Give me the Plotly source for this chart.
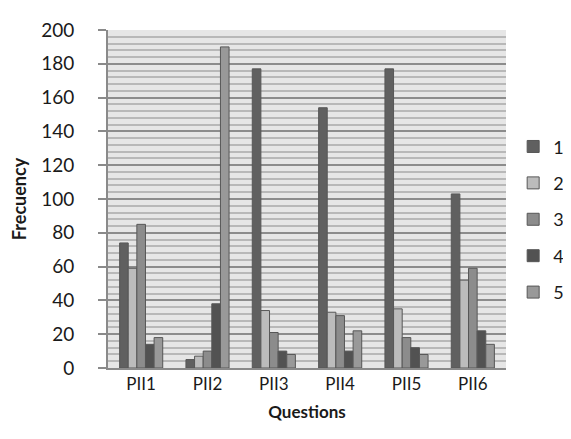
import plotly.graph_objects as go

categories = ["PII1", "PII2", "PII3", "PII4", "PII5", "PII6"]
series_names = ["1", "2", "3", "4", "5"]
s1 = [74, 5, 177, 154, 177, 103]
s2 = [59, 7, 34, 33, 35, 52]
s3 = [85, 10, 21, 31, 18, 59]
s4 = [14, 38, 10, 10, 12, 22]
s5 = [18, 190, 8, 22, 8, 14]
values = [s1, s2, s3, s4, s5]
colors = ["#606060", "#bcbcbc", "#8c8c8c", "#525252", "#999999"]

FONT = "Lato"
fig = go.Figure()
for i, (name, vals) in enumerate(zip(series_names, values)):
    fig.add_trace(go.Bar(
        x=categories, y=vals, name=name,
        marker=dict(color=colors[i], line=dict(color="#575757", width=1)),
        legendgroup=name,
    ))

fig.update_layout(
    width=571, height=439,
    margin=dict(l=100, r=73, t=22, b=79, autoexpand=False),
    paper_bgcolor="white", plot_bgcolor="#e6e6e6",
    barmode="group", bargap=0.35, bargroupgap=0,
    font=dict(family=FONT, size=18, color="#1a1a1a"),
    legend=dict(x=1.018, y=0.44, yanchor="middle", xanchor="left",
                font=dict(size=18), tracegroupgap=10,
                itemwidth=30, bgcolor="rgba(0,0,0,0)"),
    xaxis=dict(
        showline=True, linecolor="#8a8a8a", linewidth=2,
        ticks="", tickfont=dict(size=17), automargin=False,
        title=dict(text="<b>Questions</b>", font=dict(size=17), standoff=13),
    ),
    yaxis=dict(
        range=[0, 200], dtick=20, tick0=0, automargin=False,
        showline=True, linecolor="#8a8a8a", linewidth=2,
        ticks="outside", ticklen=8, tickcolor="#8a8a8a", tickwidth=1.5,
        ticklabelstandoff=20,
        gridcolor="#8c8c8c", gridwidth=1.5,
        minor=dict(dtick=4, showgrid=True, gridcolor="#b8b8b8", gridwidth=1.5),
        tickfont=dict(size=19),
        title=dict(text="<b>Frecuency</b>", font=dict(size=18), standoff=10),
        zeroline=False,
    ),
)

fig.write_html("out.html")
